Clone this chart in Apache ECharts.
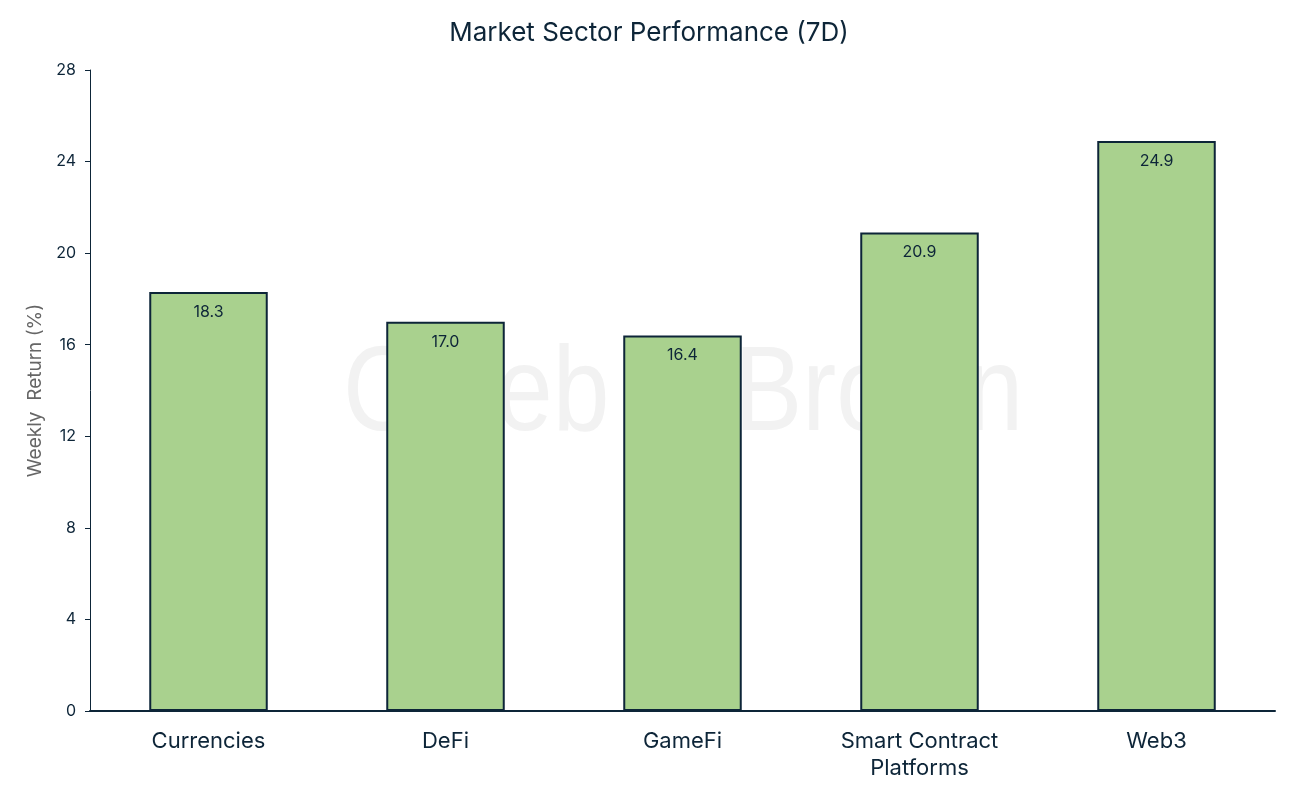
<!DOCTYPE html>
<html>
<head>
<meta charset="utf-8">
<title>Market Sector Performance (7D)</title>
<script src="https://cdn.jsdelivr.net/npm/echarts@6/dist/echarts.min.js"></script>
<style>
  html, body { margin: 0; padding: 0; background: #ffffff; }
  #chart { width: 1298px; height: 792px; }
</style>
</head>
<body>
<div id="chart"></div>
<script>
  // sectors and their weekly return
  const sectors = ['Currencies', 'DeFi', 'GameFi', 'Smart Contract\nPlatforms', 'Web3'];
  const weeklyReturn = [18.3, 17.0, 16.4, 20.9, 24.9];

  const ink = '#0d2538';
  const font = 'Inter, "Noto Sans", sans-serif';

  const chart = echarts.init(document.getElementById('chart'));

  chart.setOption({
    animation: false,
    textStyle: { fontFamily: font },
    title: {
      text: 'Market Sector Performance (7D)',
      left: 'center',
      top: 15,
      textStyle: { fontSize: 26, fontWeight: 'normal', color: ink, fontFamily: font }
    },
    // watermark behind the bars
    graphic: [{
      type: 'text',
      x: 343,
      y: 397,
      scaleX: 0.85,
      z: -10,
      silent: true,
      style: {
        text: 'Caleb & Brown',
        fontSize: 120,
        fontFamily: '"Liberation Sans", Arial, sans-serif',
        fill: '#f2f2f2',
        align: 'left',
        verticalAlign: 'middle'
      }
    }],
    grid: { left: 90, right: 23, top: 70, bottom: 81, containLabel: false },
    xAxis: {
      type: 'category',
      data: sectors,
      axisLine: { lineStyle: { color: ink, width: 2 } },
      axisTick: { show: false },
      axisLabel: { color: ink, fontSize: 22, margin: 17, lineHeight: 27 }
    },
    yAxis: {
      type: 'value',
      min: 0,
      max: 28,
      interval: 4,
      name: 'Weekly  Return (%)',
      nameLocation: 'middle',
      nameGap: 38,
      nameTextStyle: { color: '#666666', fontSize: 19 },
      axisLine: { show: true, lineStyle: { color: ink, width: 1 } },
      axisTick: { show: true, length: 5, lineStyle: { color: ink } },
      axisLabel: { color: ink, fontSize: 16, margin: 14 },
      splitLine: { show: false }
    },
    series: [{
      type: 'bar',
      data: weeklyReturn,
      barWidth: '50%',
      itemStyle: { color: '#a9d18e', borderColor: ink, borderWidth: 2 },
      label: {
        show: true,
        position: 'insideTop',
        distance: 12,
        color: ink,
        fontSize: 16,
        formatter: p => p.value.toFixed(1)
      }
    }]
  });
</script>
</body>
</html>
